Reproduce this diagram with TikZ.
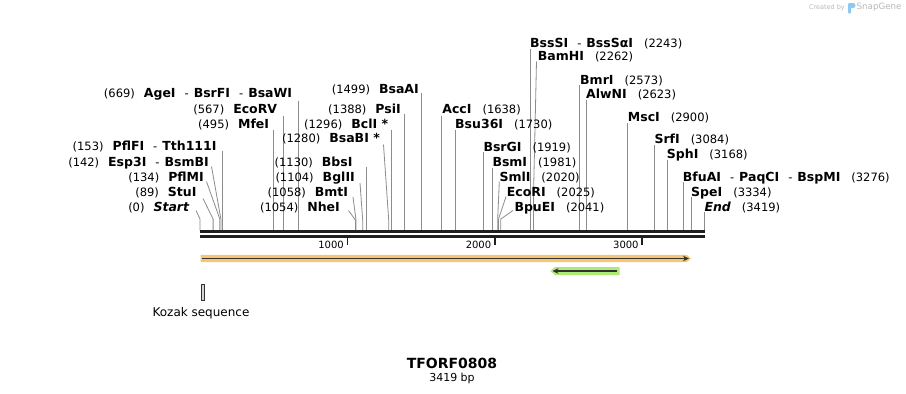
\documentclass[tikz,border=0pt]{standalone}
\usepackage{fontspec}
\setmainfont{DejaVu Sans}
\usetikzlibrary{arrows.meta}
\definecolor{sitegray}{RGB}{140,140,140}
\definecolor{barblack}{RGB}{30,30,30}
\definecolor{orfhalo}{RGB}{248,198,112}
\definecolor{grnhalo}{RGB}{172,236,118}
\definecolor{featline}{RGB}{50,50,50}
\definecolor{sgray}{RGB}{185,185,185}
\definecolor{sgblue}{RGB}{140,200,240}
\newcommand\pos[1]{{\fontsize{11.5}{13}\selectfont(#1)}}
\newcommand\enz[1]{{\fontsize{12.5}{14}\selectfont\bfseries #1}}
\newcommand\sepd{\hspace{9pt}{\fontsize{11.5}{13}\selectfont-}\hspace{5pt}}
\newcommand\gp{\hspace{9pt}}
% vertical site line: name, x, top y
\newcommand\vsite[3]{\coordinate (t#1) at (#2,#3); \coordinate (s#1) at (#2,230.5); \draw[site] (t#1) -- (s#1);}
% kinked site line: name, top x, top y, site x, knee y
\newcommand\ksite[5]{\coordinate (t#1) at (#2,#3); \coordinate (k#1) at (#4,#5); \coordinate (s#1) at (#4,230.5); \draw[site] (t#1) -- (k#1) -- (s#1);}
\begin{document}
\begin{tikzpicture}[x=1pt,y=-1pt,
  lft/.style={anchor=base east,inner sep=0pt},
  rgt/.style={anchor=base west,inner sep=0pt},
  site/.style={draw=sitegray,line width=0.8pt},
  barline/.style={draw=barblack,line width=#1},
  tickmark/.style={draw=barblack,line width=1.8pt},
  ticklab/.style={anchor=base east,inner sep=0pt,font=\fontsize{10}{12}\selectfont}]
\useasboundingbox (0,0) rectangle (906,394);
\fill[white] (0,0) rectangle (906,394);

% ---------- site lines ----------
% left cluster
\ksite{Start}{196}{210.5}{200.0}{219}
\ksite{Stu}{203}{198.5}{213.1}{219}
\ksite{PflM}{206.5}{181.5}{219.8}{219}
\ksite{Esp}{211.5}{166.5}{220.9}{219}
\vsite{PflF}{222.6}{151}
\vsite{Mfe}{273.0}{130}
\vsite{EcoRV}{283.6}{115.5}
\vsite{Age}{298.6}{100.5}
\ksite{Nhe}{348.5}{210.5}{355.4}{220}
\ksite{Bmt}{353}{197}{356.0}{220}
\ksite{Bgl}{360}{183}{362.7}{220}
\vsite{Bbs}{366.6}{167}
\ksite{BsaB}{383.5}{144.5}{388.7}{220}
\vsite{Bcl}{391.0}{130}
\vsite{Psi}{404.6}{114}
\vsite{BsaA}{421.0}{93}
% right cluster
\vsite{Acc}{441.4}{115.5}
\vsite{Bsu}{455.0}{130}
\vsite{BsrG}{482.9}{152}
\vsite{Bsm}{492.0}{167.5}
\ksite{Sml}{499.3}{181.5}{497.7}{219}
\ksite{EcoRI}{506}{196.5}{498.5}{219}
\ksite{BpuE}{513}{210.5}{500.8}{219}
\vsite{BssS}{530.6}{49}
\ksite{BamH}{536.5}{61.5}{533.4}{200}
\vsite{Bmr}{579.3}{85}
\vsite{AlwN}{586.6}{100}
\vsite{Msc}{627.5}{123}
\vsite{Srf}{654.6}{145}
\vsite{Sph}{667.0}{159.5}
\vsite{BfuA}{682.9}{182}
\vsite{Spe}{691.4}{197}
\vsite{End}{704.0}{212}

% ---------- labels (left side) ----------
\node[lft] (lAge) at (292.3,97.8) {\pos{669}\gp\enz{AgeI}\sepd\enz{BsrFI}\sepd\enz{BsaWI}};
\node[lft] (lEcoRV) at (277.3,113.3) {\pos{567}\gp\enz{EcoRV}};
\node[lft] (lMfe) at (269.3,128.6) {\pos{495}\gp\enz{MfeI}};
\node[lft] (lBsaA) at (419,93) {\pos{1499}\gp\enz{BsaAI}};
\node[lft] (lPsi) at (401,113.3) {\pos{1388}\gp\enz{PsiI}};
\node[lft] (lBcl) at (388.3,128.6) {\pos{1296}\gp\enz{BclI *}};
\node[lft] (lBsaB) at (380,142.6) {\pos{1280}\gp\enz{BsaBI *}};
\node[lft] (lPflF) at (216.7,150.3) {\pos{153}\gp\enz{PflFI}\sepd\enz{Tth111I}};
\node[lft] (lEsp) at (209,166.6) {\pos{142}\gp\enz{Esp3I}\sepd\enz{BsmBI}};
\node[lft] (lPflM) at (204,181) {\pos{134}\gp\enz{PflMI}};
\node[lft] (lStu) at (196.7,196) {\pos{89}\gp\enz{StuI}};
\node[lft] (lStart) at (189.3,211) {\pos{0}\gp\enz{\itshape Start}};
\node[lft] (lBbs) at (352.7,166.6) {\pos{1130}\gp\enz{BbsI}};
\node[lft] (lBgl) at (355,181) {\pos{1104}\gp\enz{BglII}};
\node[lft] (lBmt) at (348.3,196) {\pos{1058}\gp\enz{BmtI}};
\node[lft] (lNhe) at (340,211) {\pos{1054}\gp\enz{NheI}};

% ---------- labels (right side) ----------
\node[rgt] (lBssS) at (530,47.5) {\enz{BssSI}\sepd\enz{BssSαI}\hspace{11pt}\pos{2243}};
\node[rgt] (lBamH) at (537.7,60.5) {\enz{BamHI}\hspace{11pt}\pos{2262}};
\node[rgt] (lBmr) at (580,84.3) {\enz{BmrI}\hspace{11pt}\pos{2573}};
\node[rgt] (lAlwN) at (586,98.6) {\enz{AlwNI}\hspace{11pt}\pos{2623}};
\node[rgt] (lAcc) at (442.2,113.6) {\enz{AccI}\hspace{11pt}\pos{1638}};
\node[rgt] (lBsu) at (455,128.6) {\enz{Bsu36I}\hspace{11pt}\pos{1730}};
\node[rgt] (lMsc) at (627.7,121.6) {\enz{MscI}\hspace{11pt}\pos{2900}};
\node[rgt] (lSrf) at (654.3,143.6) {\enz{SrfI}\hspace{11pt}\pos{3084}};
\node[rgt] (lSph) at (666.7,158.3) {\enz{SphI}\hspace{11pt}\pos{3168}};
\node[rgt] (lBsrG) at (483.3,151) {\enz{BsrGI}\hspace{11pt}\pos{1919}};
\node[rgt] (lBsm) at (492.3,166.6) {\enz{BsmI}\hspace{11pt}\pos{1981}};
\node[rgt] (lSml) at (499.3,181) {\enz{SmlI}\hspace{11pt}\pos{2020}};
\node[rgt] (lEcoRI) at (506.7,196) {\enz{EcoRI}\hspace{11pt}\pos{2025}};
\node[rgt] (lBpuE) at (514.3,211) {\enz{BpuEI}\hspace{11pt}\pos{2041}};
\node[rgt] (lBfuA) at (682.7,181) {\enz{BfuAI}\sepd\enz{PaqCI}\sepd\enz{BspMI}\hspace{11pt}\pos{3276}};
\node[rgt] (lSpe) at (691,196) {\enz{SpeI}\hspace{11pt}\pos{3334}};
\node[rgt] (lEnd) at (704.3,211) {\enz{\itshape End}\hspace{11pt}\pos{3419}};

% ---------- sequence bar ----------
\coordinate (barTL) at (200,231.6);
\coordinate (barTR) at (705,231.6);
\coordinate (barBL) at (200,236.2);
\coordinate (barBR) at (705,236.2);
\draw[barline=3pt] (barTL) -- (barTR);
\draw[barline=2.6pt] (barBL) -- (barBR);

% ticks
\coordinate (tk1a) at (347.4,237); \coordinate (tk1b) at (347.4,245);
\coordinate (tk2a) at (494.8,237); \coordinate (tk2b) at (494.8,245);
\coordinate (tk3a) at (642.2,237); \coordinate (tk3b) at (642.2,245);
\draw[tickmark] (tk1a) -- (tk1b);
\draw[tickmark] (tk2a) -- (tk2b);
\draw[tickmark] (tk3a) -- (tk3b);
\node[ticklab] (t1000) at (344,248.8) {1000};
\node[ticklab] (t2000) at (491.4,248.8) {2000};
\node[ticklab] (t3000) at (638.8,248.8) {3000};

% ---------- features ----------
\fill[orfhalo] (200.5,254.8) -- (686.5,254.8) -- (691,258.5) -- (686.5,262.2) -- (200.5,262.2) -- cycle;
\coordinate (orfL) at (202,258.5);
\coordinate (orfR) at (689,258.5);
\draw[featline,line width=1.6pt,-{Stealth[length=6pt,width=5.5pt]}] (orfL) -- (orfR);

\fill[grnhalo] (550.5,271) -- (555,267) -- (619.5,267) -- (619.5,275) -- (555,275) -- cycle;
\coordinate (grnR) at (616.5,271);
\coordinate (grnL) at (552.5,271);
\draw[featline,line width=1.6pt,-{Stealth[length=6pt,width=5.5pt]}] (grnR) -- (grnL);

% Kozak sequence
\node[draw=featline,fill=sgray!80!black!40,line width=0.6pt,minimum width=3pt,minimum height=16pt,inner sep=0pt] (kozak) at (202.5,292) {};
\node[font=\fontsize{12}{14}\selectfont] (kozaklab) at (201,313) {Kozak sequence};

% ---------- title ----------
\node[font=\fontsize{14}{16}\selectfont\bfseries] (title) at (452,363) {TFORF0808};
\node[font=\fontsize{11}{13}\selectfont] (len) at (452,378.5) {3419 bp};

% ---------- watermark ----------
\node[anchor=east,inner sep=0pt,text=sgray,font=\fontsize{6.5}{8}\selectfont] (cb) at (845,7.5) {Created by};
\fill[sgblue,rounded corners=1.2pt] (848,3) rectangle (851,13.5);
\fill[sgblue] (850,3) -- (853,3) arc[start angle=90,end angle=-90,radius=2.5pt] -- (850,8) -- cycle;
\node[anchor=west,inner sep=0pt,text=sgray,font=\fontsize{8.7}{10}\selectfont] (sg) at (856.5,7.5) {SnapGene};
\end{tikzpicture}
\end{document}
